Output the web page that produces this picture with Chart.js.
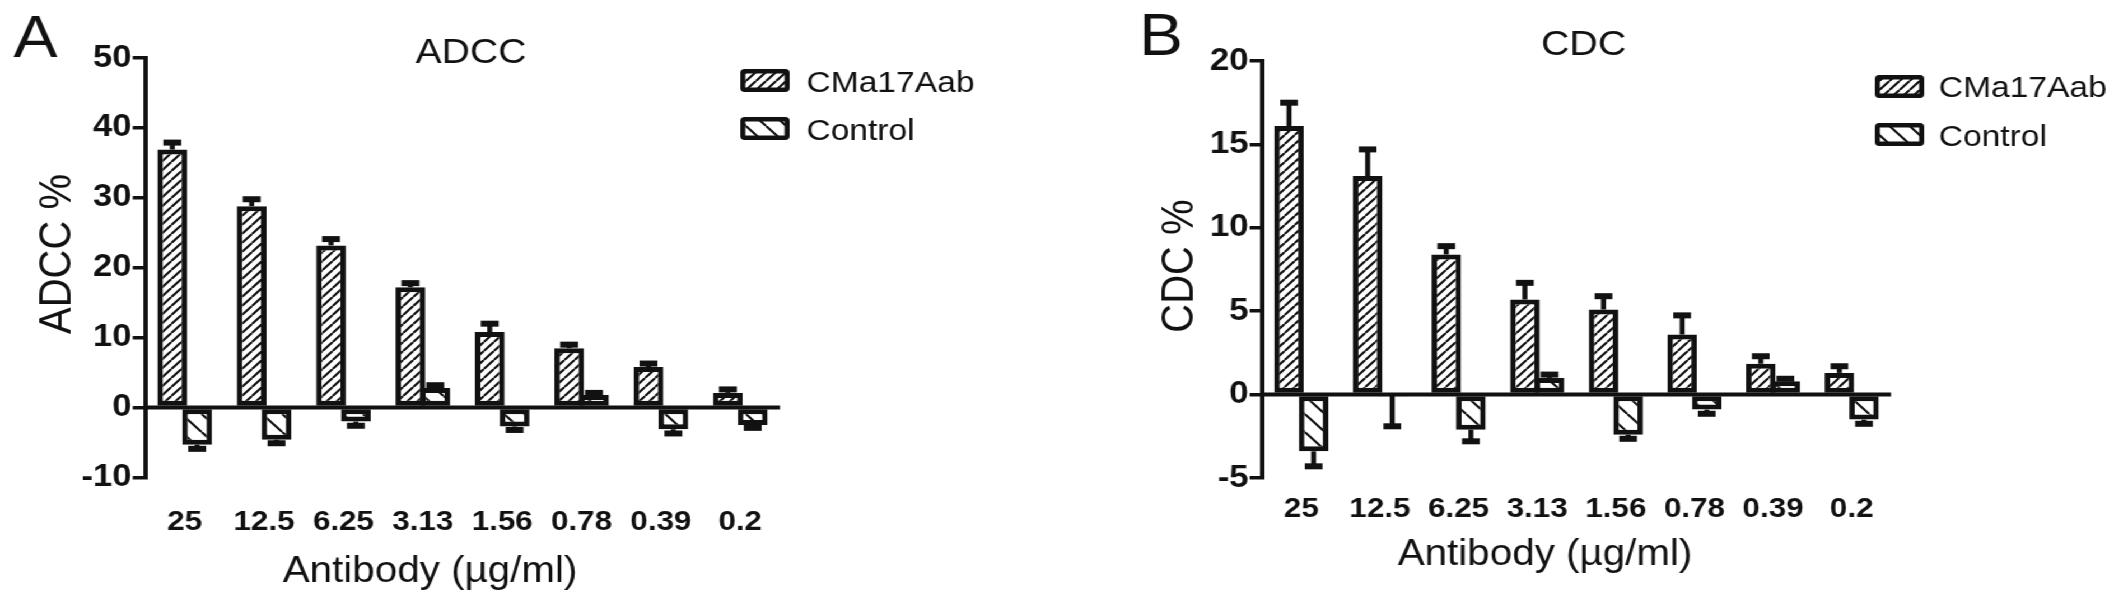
<!DOCTYPE html>
<html>
<head>
<meta charset="utf-8">
<script src="https://cdn.jsdelivr.net/npm/chart.js@4.4.1/dist/chart.umd.min.js"></script>
<style>
    html, body { margin: 0; padding: 0; background: #fff; overflow: hidden; }
    /* the source figure is stretched sideways, so the whole drawing is too */
    #wrap { position: absolute; left: 0; top: 0; width: 1898px; height: 604px;
            transform: scaleX(1.12); transform-origin: 0 0; }
    #adcc { position: absolute; left: 0; top: 0; }
    #cdc { position: absolute; left: 949px; top: 0; }
</style>
</head>
<body>
<div id="wrap"><canvas id="adcc" width="949" height="604"></canvas><canvas id="cdc" width="949" height="604"></canvas></div>
<script>
const doses = ["25", "12.5", "6.25", "3.13", "1.56", "0.78", "0.39", "0.2"];

const adccAab = [36.9, 28.8, 23.2, 17.2, 10.8, 8.5, 5.8, 2.1];
const adccAabErr = [1.0, 1.0, 0.9, 0.6, 1.2, 0.5, 0.5, 0.5];
const adccCtrl = [-5.3, -4.6, -2.0, 2.8, -2.7, 1.8, -3.1, -2.5];
const adccCtrlErr = [0.6, 0.5, 0.6, 0.4, 0.5, 0.3, 0.6, 0.4];
const adccTicks = [-10, 0, 10, 20, 30, 40, 50];

const cdcAab = [16.1, 13.1, 8.4, 5.7, 5.1, 3.6, 1.85, 1.3];
const cdcAabErr = [1.4, 1.6, 0.5, 1.0, 0.8, 1.15, 0.45, 0.4];
const cdcCtrl = [-3.4, -0.05, -2.1, 1.0, -2.4, -0.9, 0.8, -1.5];
const cdcCtrlErr = [0.9, 1.85, 0.7, 0.2, 0.25, 0.25, 0.15, 0.25];
const cdcTicks = [-5, 0, 5, 10, 15, 20];

const ink = "#111111";
const family = "\"Liberation Sans\", Arial, sans-serif";
const H = 604;

const makeHatch = (ctx, size, lineWidth, forward) => {
    const tile = document.createElement("canvas");
    tile.width = size;
    tile.height = size;
    const t = tile.getContext("2d");
    t.fillStyle = "#fff";
    t.fillRect(0, 0, size, size);
    t.strokeStyle = ink;
    t.lineWidth = lineWidth;
    t.beginPath();
    for (let k = -1; k <= 1; k++) {
        if (forward) {
            t.moveTo(k * size, size);
            t.lineTo(k * size + size, 0);
        } else {
            t.moveTo(k * size, 0);
            t.lineTo(k * size + size, size);
        }
    }
    t.stroke();
    return ctx.createPattern(tile, "repeat");
};

// x axis drawn through zero, then the error bars (away from zero only)
const zeroAndErrors = {
    id: "zeroAndErrors",
    afterDatasetsDraw(chart) {
        const ctx = chart.ctx;
        const y = chart.scales.y;
        const area = chart.chartArea;
        ctx.save();
        ctx.strokeStyle = ink;
        ctx.lineWidth = 4;
        ctx.beginPath();
        ctx.moveTo(area.left, y.getPixelForValue(0));
        ctx.lineTo(area.right, y.getPixelForValue(0));
        ctx.stroke();

        chart.data.datasets.forEach((ds, di) => {
            chart.getDatasetMeta(di).data.forEach((bar, i) => {
                const v = ds.data[i];
                const e = ds.errors[i];
                const dir = v < 0 ? -1 : 1;
                const { x, width } = bar.getProps(["x", "width"], true);
                const y0 = y.getPixelForValue(v);
                const y1 = y.getPixelForValue(v + dir * e);
                const half = width * 0.3;
                ctx.lineWidth = 4.5;
                ctx.beginPath();
                ctx.moveTo(x, y0);
                ctx.lineTo(x, y1);
                ctx.stroke();
                ctx.lineWidth = 6;
                ctx.beginPath();
                ctx.moveTo(x - half, y1);
                ctx.lineTo(x + half, y1);
                ctx.stroke();
            });
        });
        ctx.restore();
    }
};

// panel letter, title, axis titles and the legend
const panelText = {
    id: "panelText",
    afterDraw(chart, args, o) {
        const ctx = chart.ctx;
        ctx.save();
        ctx.fillStyle = ink;
        ctx.textBaseline = "alphabetic";

        ctx.font = "59px " + family;
        ctx.textAlign = "left";
        ctx.fillText(o.letter, o.letterX, o.letterY);

        ctx.font = "35px " + family;
        ctx.textAlign = "center";
        ctx.fillText(o.title, o.titleX, o.titleY);

        ctx.font = "36px " + family;
        ctx.fillText("Antibody (µg/ml)", o.xTitleX, o.xTitleY);

        ctx.save();
        ctx.translate(o.yTitleX, o.yTitleY);
        ctx.rotate(-Math.PI / 2);
        ctx.font = "40px " + family;
        ctx.textBaseline = "middle";
        ctx.fillText(o.yTitle, 0, 0);
        ctx.restore();

        ctx.font = "30px " + family;
        ctx.textAlign = "left";
        chart.data.datasets.forEach((ds, i) => {
            const sy = o.swatchY[i];
            ctx.fillStyle = ink;
            ctx.beginPath();
            ctx.roundRect(o.swatchX, sy, 44, 23, 4);
            ctx.fill();
            ctx.fillStyle = ds.backgroundColor;
            ctx.fillRect(o.swatchX + 4.5, sy + 4.5, 35, 14);
            ctx.fillStyle = ink;
            ctx.fillText(ds.label, o.textX, o.textY[i]);
        });
        ctx.restore();
    }
};

const makeChart = (canvasId, s) => {
    const ctx = document.getElementById(canvasId).getContext("2d");
    const aabFill = makeHatch(ctx, 9, 2.2, true);
    const ctrlFill = makeHatch(ctx, 18, 2.2, false);

    return new Chart(ctx, {
        type: "bar",
        data: {
            labels: doses,
            datasets: [
                { label: "CMa17Aab", data: s.aab, errors: s.aabErr, backgroundColor: aabFill },
                { label: "Control", data: s.ctrl, errors: s.ctrlErr, backgroundColor: ctrlFill }
            ]
        },
        options: {
            responsive: false,
            animation: false,
            devicePixelRatio: 1,
            layout: { padding: { top: s.top, right: s.right, left: 0, bottom: 0 } },
            datasets: {
                bar: {
                    categoryPercentage: 0.626,
                    barPercentage: 1.2,
                    borderColor: ink,
                    borderWidth: 5,
                    borderSkipped: false
                }
            },
            plugins: {
                legend: { display: false },
                tooltip: { enabled: false },
                panelText: s.text
            },
            scales: {
                x: {
                    grid: { display: false, drawTicks: false },
                    border: { display: false },
                    ticks: {
                        color: ink,
                        font: { family: family, size: 28, weight: "bold" },
                        padding: s.xPad,
                        maxRotation: 0,
                        autoSkip: false
                    },
                    afterFit: (scale) => { scale.height = H - s.bottom; }
                },
                y: {
                    min: s.ticks[0],
                    max: s.ticks[s.ticks.length - 1],
                    afterBuildTicks: (scale) => { scale.ticks = s.ticks.map((v) => ({ value: v })); },
                    ticks: {
                        color: ink,
                        font: { family: family, size: 31, weight: "bold" },
                        padding: 1
                    },
                    grid: {
                        drawOnChartArea: false,
                        drawTicks: true,
                        tickLength: 11,
                        lineWidth: 3.5,
                        color: ink
                    },
                    border: { display: true, width: 4, color: ink },
                    afterFit: (scale) => { scale.width = s.left; }
                }
            }
        },
        plugins: [zeroAndErrors, panelText]
    });
};

makeChart("adcc", {
    aab: adccAab, aabErr: adccAabErr, ctrl: adccCtrl, ctrlErr: adccCtrlErr, ticks: adccTicks,
    top: 58, bottom: 477.5, left: 129.5, right: 252.6, xPad: 28,
    text: {
        letter: "A", letterX: 12, letterY: 57,
        title: "ADCC", titleX: 420.5, titleY: 63,
        yTitle: "ADCC %", yTitleX: 52, yTitleY: 254,
        xTitleX: 384, xTitleY: 582,
        swatchX: 661, swatchY: [69, 117], textX: 720, textY: [92, 140]
    }
});

makeChart("cdc", {
    aab: cdcAab, aabErr: cdcAabErr, ctrl: cdcCtrl, ctrlErr: cdcCtrlErr, ticks: cdcTicks,
    top: 61, bottom: 478, left: 177.8, right: 209.6, xPad: 14,
    text: {
        letter: "B", letterX: 68, letterY: 55,
        title: "CDC", titleX: 465, titleY: 55,
        yTitle: "CDC %", yTitleX: 105, yTitleY: 266,
        xTitleX: 430.5, xTitleY: 565,
        swatchX: 725, swatchY: [75, 123], textX: 782, textY: [97, 146]
    }
});
</script>
</body>
</html>
